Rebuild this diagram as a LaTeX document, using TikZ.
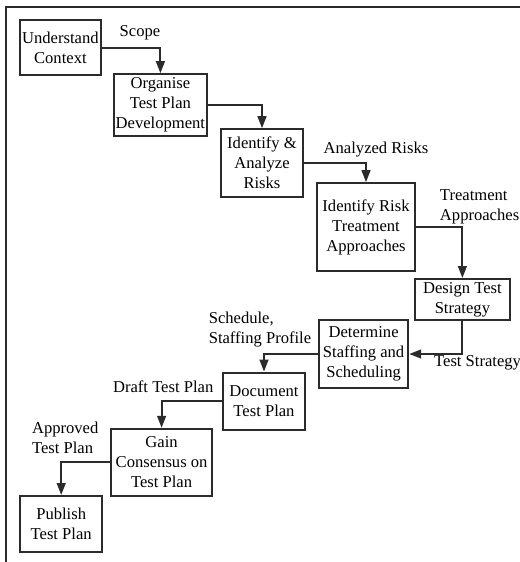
\documentclass[tikz,border=0pt]{standalone}
\usepackage{fontspec}
\setmainfont{Liberation Serif}
\usepackage{tikz}
\usetikzlibrary{positioning,arrows.meta}
\usepackage{xcolor}
\definecolor{planline}{HTML}{2b2b2b}

\begin{document}
\begin{tikzpicture}[
    block/.style={draw=planline, line width=1.4pt, align=center, inner sep=1pt, font=\fontsize{11.8}{14.2}\selectfont},
    arrow/.style={-{Triangle[length=3mm, width=2.2mm]}, line width=1.3pt, planline},
    label/.style={font=\fontsize{11.8}{14.2}\selectfont, inner sep=0pt}
]
\useasboundingbox (0,0) rectangle (13,-14.05);
% frame
\draw[planline, line width=1.5pt] (0.15,-14.05) -- (0.15,-0.175) -- (13,-0.175);

% Steps
\node[block, minimum width=2.03cm, minimum height=1.38cm] (ctx) at (1.51,-1.19) {Understand\\Context};
\node[block, minimum width=2.33cm, minimum height=1.55cm] (org) at (4.01,-2.63) {Organise\\Test Plan\\Development};
\node[block, minimum width=2.03cm, minimum height=1.70cm] (idr) at (6.55,-4.08) {Identify \&\\Analyze\\Risks};
\node[block, minimum width=2.45cm, minimum height=2.20cm] (trt) at (9.15,-5.68) {Identify Risk\\Treatment\\Approaches};
\node[block, minimum width=2.38cm, minimum height=1.03cm] (dts) at (11.56,-7.49) {Design Test\\Strategy};
\node[block, minimum width=2.23cm, minimum height=1.70cm] (stf) at (9.09,-8.85) {Determine\\Staffing and\\Scheduling};
\node[block, minimum width=2.05cm, minimum height=1.43cm] (doc) at (6.60,-10.03) {Document\\Test Plan};
\node[block, minimum width=2.53cm, minimum height=1.68cm] (gcp) at (4.04,-11.56) {Gain\\Consensus on\\Test Plan};
\node[block, minimum width=2.05cm, minimum height=1.40cm] (pub) at (1.53,-13.10) {Publish\\Test Plan};

% Labels
\node[label] (scope) at (3.50,-0.83) {Scope};
\node[label] (arisk) at (9.40,-3.73) {Analyzed Risks};
\node[label, align=left] (tapp) at (11.99,-5.18) {Treatment\\Approaches};
\node[label] (tstr) at (11.94,-9.08) {Test Strategy};
\node[label, align=left] (sched) at (6.50,-8.25) {Schedule,\\Staffing Profile};
\node[label] (draft) at (4.08,-9.68) {Draft Test Plan};
\node[label, align=left] (appr) at (1.63,-10.95) {Approved\\Test Plan};

\draw[arrow] (ctx) -| (org);
\draw[arrow] (org) -| (idr);
\draw[arrow] (idr) -| (trt);
\draw[arrow] (trt) -| (dts);
\draw[arrow] (dts) |- (stf);
\draw[arrow] (stf) -| (doc);
\draw[arrow] (doc) -| (gcp);
\draw[arrow] (gcp) -| (pub);
\end{tikzpicture}
\end{document}
